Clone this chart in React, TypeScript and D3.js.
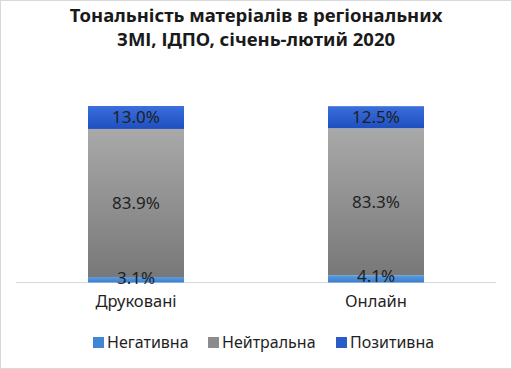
import React from "react";
import * as d3 from "d3";

const categories = ["Друковані", "Онлайн"];
const seriesNames = ["Негативна", "Нейтральна", "Позитивна"];
const negative = [3.1, 4.1];
const neutral = [83.9, 83.3];
const positive = [13.0, 12.5];
const titleLines = ["Тональність матеріалів в регіональних", "ЗМІ, ІДПО, січень-лютий 2020"];

const W = 512, H = 369;
const gradIds = ["gNeg", "gNeu", "gPos"];
const gradStops: [string, string][] = [
  ["#5a9be0", "#3a7fcf"],
  ["#a9a9a9", "#787878"],
  ["#3a6fdc", "#1f4fbf"],
];
const legendSwatch = ["#3f86d5", "#8c8c8c", "#2a5cc8"];

export default function App() {
  const rows = categories.map((c, i) => ({ cat: c, neg: negative[i], neu: neutral[i], pos: positive[i] }));
  const stack = d3.stack<any>().keys(["neg", "neu", "pos"])(rows);
  const x = d3.scaleBand().domain(categories).range([16, 496]).paddingInner(0.6).paddingOuter(0.3);
  const y = d3.scaleLinear().domain([0, 100]).range([282.5, 106]);
  const font = "'Noto Sans', sans-serif";
  const legendX = [93, 208, 336];
  return (
    <svg width={W} height={H} style={{ position: "absolute", left: 0, top: 0, background: "#fff" }} fontFamily={font}>
      <defs>
        {gradIds.map((id, k) => (
          <linearGradient key={id} id={id} x1="0" y1="0" x2="0" y2="1">
            <stop offset="0" stopColor={gradStops[k][0]} />
            <stop offset="1" stopColor={gradStops[k][1]} />
          </linearGradient>
        ))}
      </defs>
      <rect x={0.5} y={0.5} width={W - 1} height={H - 1} fill="#fff" stroke="#d9d9d9" />
      {titleLines.map((t, i) => (
        <text key={i} x={256} y={22 + i * 24} textAnchor="middle" fontSize={18.5} fontWeight="bold" fill="#1a1a1a">
          {t}
        </text>
      ))}
      <line x1={16} x2={496} y1={282.5} y2={282.5} stroke="#d9d9d9" strokeWidth={1} />
      {stack.map((layer, k) => (
        <g key={k}>
          {layer.map((d, i) => (
            <rect key={i} x={x(categories[i])!} width={x.bandwidth()} y={y(d[1])} height={y(d[0]) - y(d[1])} fill={`url(#${gradIds[k]})`} />
          ))}
        </g>
      ))}
      {stack.map((layer, k) =>
        layer.map((d, i) => (
          <text key={`${k}-${i}`} x={x(categories[i])! + x.bandwidth() / 2} y={(k === 0 ? y(d[1]) + 1 : (y(d[0]) + y(d[1])) / 2) + 6}
            textAnchor="middle" fontSize={17} fill="#1f1f1f">
            {(d[1] - d[0]).toFixed(1)}%
          </text>
        ))
      )}
      {categories.map((c) => (
        <text key={c} x={x(c)! + x.bandwidth() / 2} y={307} textAnchor="middle" fontSize={16.5} fill="#1f1f1f">{c}</text>
      ))}
      {seriesNames.map((s, k) => (
        <g key={s}>
          <rect x={legendX[k]} y={337} width={11} height={11} fill={legendSwatch[k]} />
          <text x={legendX[k] + 14} y={348} fontSize={16} fill="#1f1f1f">{s}</text>
        </g>
      ))}
    </svg>
  );
}
